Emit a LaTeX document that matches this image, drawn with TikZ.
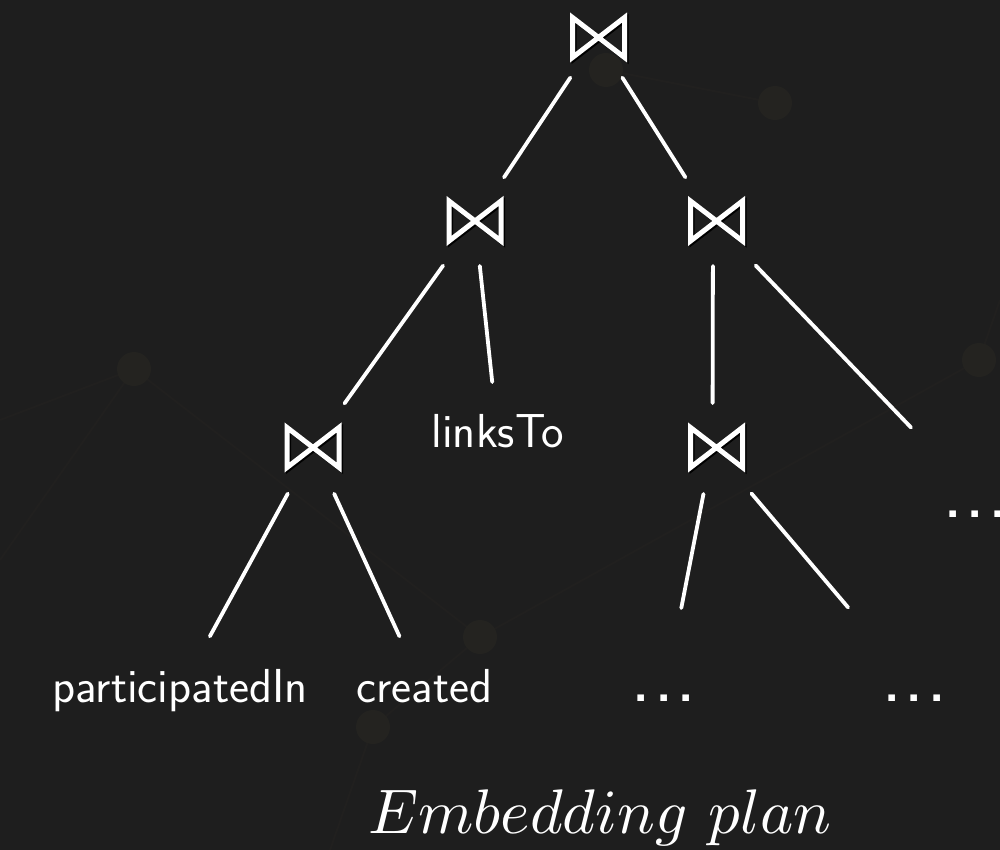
\documentclass[tikz,border=0pt]{standalone}
\usepackage{fontspec}
\usetikzlibrary{calc}
\definecolor{bg}{HTML}{1E1E1E}
\definecolor{netline}{HTML}{21201F}
\definecolor{netdot}{HTML}{242320}
\begin{document}
\begin{tikzpicture}[x=1pt,y=-1pt,
  opnode/.style={inner sep=0pt, minimum width=57pt, minimum height=51pt},
  word/.style={text=white, inner sep=0pt, font=\sffamily\fontsize{47.7}{54}\selectfont,
    text height=33.1pt, text depth=9.3pt},
  dotsl/.style={text=white, inner sep=0pt, font=\sffamily\fontsize{82}{90}\selectfont,
    text height=8pt, text depth=0pt},
  edge/.style={white, line width=3.8pt, line cap=round},
  bowtie/.style={line width=5pt, line join=miter},
  net/.style={netline, line width=2pt}]
\useasboundingbox (0,0) rectangle (1000,850);
\fill[bg] (0,0) rectangle (1000,850);

% faint network in the background
\draw[net] (0,420) -- (134,369) -- (480,637) -- (979,360) -- (1000,300);
\draw[net] (373,727) -- (480,637);
\draw[net] (373,727) -- (330,850);
\draw[net] (134,369) -- (0,560);
\draw[net] (606,70) -- (775,103);
\foreach \p in {(134,369),(606,70),(775,103),(979,360),(480,637),(373,727)}
  \fill[netdot] \p circle (17);

% join operators
\node[opnode] (T) at (597,37.5) {};
\node[opnode] (A) at (475,221) {};
\node[opnode] (B) at (713,221) {};
\node[opnode] (C) at (313,447.5) {};
\node[opnode] (R) at (712.5,447.5) {};
\foreach \n/\dx in {T/1.5,A/0,B/3.5,C/0,R/4}{
  \begin{scope}[shift={($(\n)+(\dx,0)$)}]
    \draw[bowtie, black, xshift=1.5pt, yshift=-1.5pt]
      (-26,-20) -- (26,20) -- (26,-20) -- (-26,20) -- cycle;
    \draw[bowtie, white]
      (-26,-20) -- (26,20) -- (26,-20) -- (-26,20) -- cycle;
  \end{scope}}

% relations
\node[word] (lk) at (498,436) {linksTo};
\node[word] (pI) at (180,691) {participatedIn};
\node[word] (cr) at (424.5,691) {created};
\node[dotsl] (d1) at (664,697) {.\kern1.2pt.\kern1.2pt.};
\node[dotsl, text width=86pt, align=left] (d2) at (924,697) {.\kern1.2pt.\kern1.2pt.};
\node[dotsl, text width=102pt, align=left] (d3) at (993,513) {.\kern1.2pt.\kern1.2pt.};

% caption
\node[text=white, inner sep=0pt, anchor=base]
  (cap) at (600,833) {\scalebox{6.3}{$Embedding\ plan$}};

% tree edges
\draw[edge, shorten <=48.2pt, shorten >=52.4pt] (T.center) -- (A.center);
\draw[edge, shorten <=47.5pt, shorten >=51.7pt] (T.center) -- (B.center);
\draw[edge, shorten <=54.9pt, shorten >=54.2pt] (A.center) -- (C.center);
\draw[edge, shorten <=45.2pt, shorten >=54.3pt] (A.center) -- (lk.center);
\draw[edge, shorten <=45pt, shorten >=44.5pt] (B.center) -- (R.center);
\draw[edge, shorten <=61.6pt, shorten >=118.4pt] (B.center) -- (d3.center);
\draw[edge, shorten <=52.6pt, shorten >=62.3pt] (C.center) -- (pI.center);
\draw[edge, shorten <=50.9pt, shorten >=60.2pt] (C.center) -- (cr.center);
\draw[edge, shorten <=47.3pt, shorten >=90.6pt] (R.center) -- (d1.center);
\draw[edge, shorten <=60.3pt, shorten >=117.4pt] (R.center) -- (d2.center);
\end{tikzpicture}
\end{document}
